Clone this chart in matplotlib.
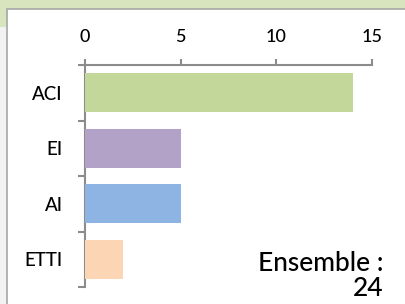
import numpy as np
import matplotlib.pyplot as plt
from matplotlib.patches import Rectangle

# donnees
categories = ['ACI', 'EI', 'AI', 'ETTI']
valeurs = [14, 5, 5, 2]
couleurs = ['#c4d79b', '#b3a2c7', '#8eb4e3', '#fcd5b5']
ticks_x = [0, 5, 10, 15]
texte_total = 'Ensemble :\n24'

plt.rcParams['font.family'] = ['Lato', 'DejaVu Sans']
plt.rcParams['font.weight'] = 'medium'
gris = '#8c8c8c'

W, H = 405, 304
fig = plt.figure(figsize=(W / 100, H / 100), dpi=100, facecolor='#f2f2f2')

# fond : bande verte + panneau blanc
fig.patches.append(Rectangle((0, 1 - 9 / H), 1, 9 / H, transform=fig.transFigure,
                             facecolor='#d7e4bd', edgecolor='none', zorder=0))
fig.patches.append(Rectangle((0, 1 - 27 / H), 7 / W, 27 / H, transform=fig.transFigure,
                             facecolor='#d7e4bd', edgecolor='none', zorder=0))
fig.patches.append(Rectangle((7 / W, -0.1), 1.1, 1.1 - 9 / H, transform=fig.transFigure,
                             facecolor='white', edgecolor='#a6a6a6', linewidth=1.2, zorder=0.5))

ax = fig.add_axes([85 / W, (H - 287) / H, (372 - 85) / W, 222 / H])
ax.set_zorder(2)
ax.set_facecolor('none')

y = np.arange(len(categories))
ax.barh(y, valeurs, height=0.7, color=couleurs, zorder=3)

ax.set_xlim(0, 15)
ax.set_ylim(len(categories) - 0.5, -0.5)
ax.set_xticks(ticks_x)
ax.set_yticks(y)
ax.set_yticklabels(categories)
ax.set_yticks(np.arange(len(categories) + 1) - 0.5, minor=True)

ax.xaxis.tick_top()
for s in ['right', 'bottom']:
    ax.spines[s].set_visible(False)
for s in ['top', 'left']:
    ax.spines[s].set_color(gris)
    ax.spines[s].set_linewidth(1.5)

ax.tick_params(axis='x', which='major', direction='out', length=4.5, width=1.5,
               color=gris, pad=10, labelsize=13, labelcolor='black')
ax.tick_params(axis='y', which='major', length=0, pad=16, labelsize=13.5)
ax.tick_params(axis='y', which='minor', direction='out', length=5, width=1.5, color=gris)

fig.text(383 / W, 1 - 301 / H, texte_total, ha='right', va='bottom',
         fontsize=19, linespacing=1.0, zorder=5)

fig.savefig('out.png', dpi=100, facecolor=fig.get_facecolor())
